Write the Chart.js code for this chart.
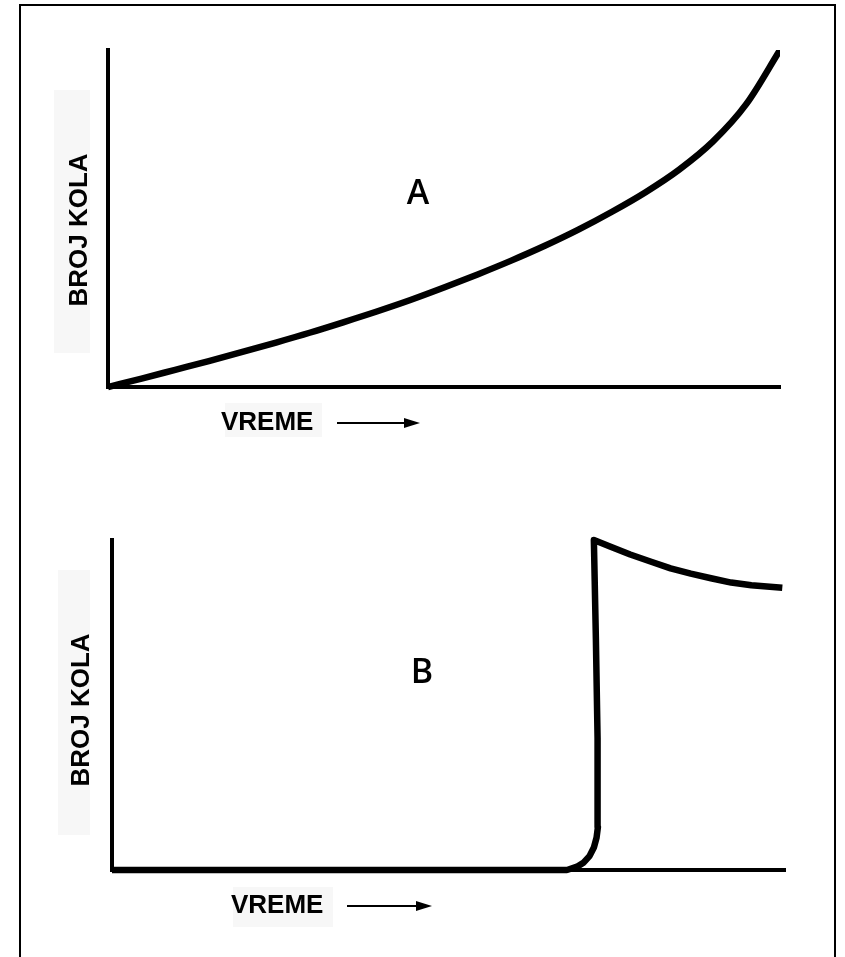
<!DOCTYPE html>
<html>
<head>
<meta charset="utf-8">
<script src="https://cdn.jsdelivr.net/npm/chart.js@4"></script>
<style>
  html, body { margin: 0; padding: 0; background: #fff; }
  #page { position: relative; width: 845px; height: 957px; overflow: hidden; }
  #frame { position: absolute; left: 19px; top: 4px; width: 817px; height: 1000px; border: 2.5px solid #000; box-sizing: border-box; }
  canvas { position: absolute; left: 0; }
  #cA { top: 0; }
  #cB { top: 478px; }
</style>
</head>
<body>
<div id="page">
  <div id="frame"></div>
  <canvas id="cA" width="845" height="478"></canvas>
  <canvas id="cB" width="845" height="479"></canvas>
</div>
<script>
// ---- data ----
const yAxisTitle = "BROJ KOLA";
const xAxisTitle = "VREME";
const panelLabels = ["A", "B"];

// Curve A: accelerating growth (time 0..100, cars 0..100)
const timeA = [0, 5, 10, 15, 20, 25, 30, 35, 40, 45, 50, 55, 60, 65, 70, 75, 80, 85, 90, 95, 100];
const carsA = [0, 2.5, 5.1, 7.7, 10.4, 13.2, 16.1, 19.2, 22.4, 25.8, 29.5, 33.4, 37.5, 41.9, 46.7, 52.0, 57.8, 64.5, 72.8, 84.0, 100];

// Curve B: nothing, then a sudden rise, then a slow decline
const timeB = [0, 60, 67.6, 69.1, 70.1, 70.95, 71.6, 72.0, 72.2, 72.15, 71.9, 71.6, 74, 77, 80, 83, 86, 89, 92, 95, 99.6];
const carsB = [0, 0, 0, 1.0, 2.3, 4.2, 6.8, 9.8, 13, 40, 70, 100, 98.0, 95.6, 93.5, 91.4, 89.8, 88.4, 87.1, 86.3, 85.5];

function pts(xs, ys) { return xs.map((x, i) => ({ x: x, y: ys[i] })); }

const LABEL_FONT = "bold 26px 'Liberation Sans', Arial, sans-serif";
const LETTER_FONT = "600 34px 'Open Sans', 'DejaVu Sans', sans-serif";

function decoPlugin(letter, cfg) {
  return {
    id: 'deco' + letter,
    beforeDraw(chart) {
      const ctx = chart.ctx;
      ctx.save();
      ctx.fillStyle = '#f7f7f7';
      ctx.fillRect(cfg.yBox[0], cfg.yBox[1], cfg.yBox[2], cfg.yBox[3]);
      ctx.fillRect(cfg.xBox[0], cfg.xBox[1], cfg.xBox[2], cfg.xBox[3]);
      ctx.restore();
    },
    afterDraw(chart) {
      const ctx = chart.ctx;
      ctx.save();
      ctx.fillStyle = '#000';
      ctx.strokeStyle = '#000';
      // y title (rotated)
      ctx.font = LABEL_FONT;
      ctx.textAlign = 'center';
      ctx.textBaseline = 'middle';
      ctx.translate(cfg.yTitle[0], cfg.yTitle[1]);
      ctx.rotate(-Math.PI / 2);
      ctx.fillText(yAxisTitle, 0, 0);
      ctx.setTransform(1, 0, 0, 1, 0, 0);
      // x title
      ctx.textAlign = 'left';
      ctx.fillText(xAxisTitle, cfg.xTitle[0], cfg.xTitle[1]);
      // arrow
      const [x0, x1, ay] = cfg.arrow;
      ctx.lineWidth = 2;
      ctx.beginPath();
      ctx.moveTo(x0, ay);
      ctx.lineTo(x1 - 12, ay);
      ctx.stroke();
      ctx.beginPath();
      ctx.moveTo(x1, ay);
      ctx.lineTo(x1 - 16, ay - 5);
      ctx.lineTo(x1 - 16, ay + 5);
      ctx.closePath();
      ctx.fill();
      // panel letter
      ctx.font = LETTER_FONT;
      ctx.textAlign = 'center';
      ctx.fillText(letter, cfg.letter[0], cfg.letter[1]);
      ctx.restore();
    }
  };
}

function makeChart(id, data, pad, curveOpts, clipTop, letter, cfg) {
  return new Chart(document.getElementById(id), {
    type: 'scatter',
    data: {
      datasets: [Object.assign({
        data: data,
        showLine: true,
        borderColor: '#000',
        borderWidth: 6.5,
        pointRadius: 0,
        fill: false,
        borderCapStyle: 'butt',
        borderJoinStyle: 'round',
        clip: { left: 0, right: 0, top: clipTop, bottom: 4 }
      }, curveOpts)]
    },
    options: {
      responsive: false,
      animation: false,
      events: [],
      layout: { padding: pad },
      plugins: { legend: { display: false }, tooltip: { enabled: false }, title: { display: false } },
      scales: {
        x: {
          type: 'linear', min: 0, max: 100,
          ticks: { display: false },
          grid: { display: false, drawTicks: false },
          border: { display: true, color: '#000', width: 4 }
        },
        y: {
          type: 'linear', min: 0, max: 100,
          ticks: { display: false },
          grid: { display: false, drawTicks: false },
          border: { display: true, color: '#000', width: 4 }
        }
      }
    },
    plugins: [decoPlugin(letter, cfg)]
  });
}

// Panel A: canvas top 0
makeChart('cA', pts(timeA, carsA), { left: 108, right: 845 - 780, top: 50, bottom: 478 - 387 },
  { tension: 0.4, cubicInterpolationMode: 'monotone' }, 0, panelLabels[0], {
  yBox: [54, 90, 36, 263], xBox: [225, 403, 97, 34],
  yTitle: [80, 230], xTitle: [221, 423], arrow: [337, 420, 423], letter: [418, 194]
});

// Panel B: canvas top 478
makeChart('cB', pts(timeB, carsB), { left: 112, right: 845 - 785, top: 540 - 478, bottom: 479 - (870 - 478) },
  { tension: 0 }, 5, panelLabels[1], {
  yBox: [58, 570 - 478, 32, 265], xBox: [233, 887 - 478, 100, 40],
  yTitle: [82, 710 - 478], xTitle: [231, 906 - 478], arrow: [347, 432, 906 - 478], letter: [422, 673 - 478]
});
</script>
</body>
</html>
